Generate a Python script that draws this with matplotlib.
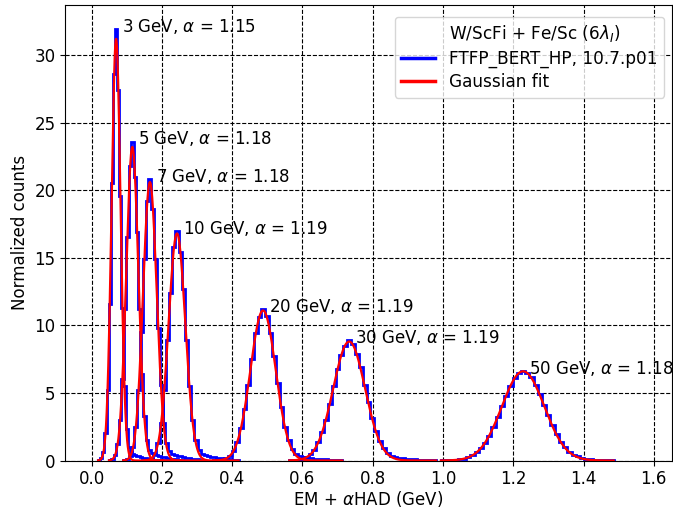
import numpy as np
import matplotlib.pyplot as plt
from matplotlib.lines import Line2D

# beam energies and the alpha weight used for each
energies = [3, 5, 7, 10, 20, 30, 50]
alphas = [1.15, 1.18, 1.18, 1.19, 1.19, 1.19, 1.18]

# gaussian fit parameters (mean, sigma, amplitude)
fit_mu = [0.0697, 0.116, 0.166, 0.243, 0.488, 0.733, 1.228]
fit_sigma = [0.0128, 0.0172, 0.0194, 0.0237, 0.0359, 0.0453, 0.0604]
fit_amp = [31.2, 23.2, 20.6, 16.8, 11.1, 8.8, 6.6]

# histogram binning: first edge and bin width for every energy
bin_start = [0.0187, 0.0495, 0.090, 0.1485, 0.34625, 0.5625, 0.994]
bin_width = [0.006, 0.007, 0.008, 0.009, 0.0105, 0.011, 0.012]

# normalized bin contents
h3 = [0.03, 0.15, 0.6, 2.0, 5.2, 11.6, 20.5, 28.6, 31.9, 27.4, 19.6, 11.3, 5.5,
      2.3, 1.0, 0.6, 0.5, 0.4, 0.35, 0.3, 0.25, 0.2, 0.15, 0.12, 0.1, 0.08,
      0.06, 0.05, 0.04, 0.03, 0.02]
h5 = [0.03, 0.12, 0.4, 1.2, 3.0, 6.0, 11.2, 16.5, 21.8, 23.6, 21.0, 16.9, 11.2,
      6.4, 3.3, 1.5, 0.8, 0.55, 0.45, 0.4, 0.33, 0.28, 0.23, 0.19, 0.15, 0.12,
      0.1, 0.08, 0.06, 0.04]
h7 = [0.02, 0.1, 0.33, 1.0, 2.5, 5.2, 9.5, 14.9, 19.2, 20.8, 18.6, 14.9, 9.8,
      5.6, 2.8, 1.3, 0.7, 0.5, 0.4, 0.35, 0.3, 0.25, 0.2, 0.16, 0.13, 0.1,
      0.08, 0.06, 0.04]
h10 = [0.02, 0.06, 0.18, 0.5, 1.3, 2.8, 5.2, 8.9, 12.4, 15.8, 17.0, 15.4, 12.7,
       8.9, 5.5, 3.0, 1.5, 0.8, 0.5, 0.4, 0.33, 0.28, 0.23, 0.19, 0.15, 0.12,
       0.1, 0.08, 0.06, 0.04]
h20 = [0.01, 0.03, 0.07, 0.17, 0.36, 0.73, 1.36, 2.38, 3.8, 5.6, 7.5, 9.4, 10.6,
       11.2, 10.7, 9.4, 7.7, 5.7, 3.95, 2.5, 1.5, 0.85, 0.5, 0.33, 0.25, 0.2,
       0.17, 0.14, 0.12, 0.1, 0.08, 0.06, 0.04, 0.03, 0.02]
h30 = [0.01, 0.03, 0.06, 0.13, 0.25, 0.46, 0.8, 1.35, 2.1, 3.0, 4.2, 5.5, 6.8,
       7.8, 8.5, 8.9, 8.6, 7.9, 6.9, 5.6, 4.35, 3.15, 2.2, 1.45, 0.9, 0.56,
       0.36, 0.25, 0.19, 0.15, 0.12, 0.1, 0.08, 0.06, 0.05, 0.04, 0.03, 0.02]
h50 = [0.005, 0.01, 0.02, 0.04, 0.08, 0.14, 0.24, 0.4, 0.6, 0.9, 1.32, 1.85, 2.5,
       3.25, 4.0, 4.8, 5.5, 6.1, 6.45, 6.6, 6.5, 6.15, 5.6, 4.9, 4.1, 3.35,
       2.6, 1.95, 1.4, 0.98, 0.66, 0.44, 0.3, 0.2, 0.14, 0.1, 0.07, 0.05,
       0.04, 0.03, 0.02]
hists = [h3, h5, h7, h10, h20, h30, h50]

fig = plt.figure(figsize=(6.73, 5.11), dpi=100)
ax = fig.add_axes([0.0969, 0.0988, 0.9012, 0.8914])

for i, e in enumerate(energies):
    h = np.array(hists[i])
    edges = bin_start[i] + bin_width[i] * np.arange(len(h) + 1)
    ax.stairs(h, edges, color='blue', lw=2, zorder=2)

    xs = np.linspace(edges[0], edges[-1], 400)
    ys = fit_amp[i] * np.exp(-0.5 * ((xs - fit_mu[i]) / fit_sigma[i]) ** 2)
    ax.plot(xs, ys, color='red', lw=1.6, zorder=3)

    ax.text(fit_mu[i] + 0.017, h.max() + 0.2,
            rf'{e} GeV, $\alpha$ = {alphas[i]:.2f}',
            fontsize=12, va='center', ha='left', clip_on=False)

ax.set_xlim(-0.075, 1.651)
ax.set_ylim(0, 33.7)
ax.set_xticks(np.arange(0, 1.61, 0.2))
ax.set_yticks(range(0, 31, 5))
ax.tick_params(labelsize=12)
ax.grid(True, color='black', linestyle='--', lw=0.8)
ax.set_axisbelow(True)

ax.set_xlabel(r'EM + $\alpha$HAD (GeV)', fontsize=12, labelpad=0.5)
ax.set_ylabel('Normalized counts', fontsize=12)

# first legend row carries the setup description with no visible handle
handles = [Line2D([], [], color='none'),
           Line2D([], [], color='blue', lw=2.5),
           Line2D([], [], color='red', lw=2.5)]
labels = [r'W/ScFi + Fe/Sc ($6\lambda_I$)', 'FTFP_BERT_HP, 10.7.p01', 'Gaussian fit']
ax.legend(handles, labels, loc='upper right', fontsize=12.2,
          bbox_to_anchor=(0.9873, 0.9743), borderaxespad=0,
          borderpad=0.4, labelspacing=0.3)

plt.savefig('out.png', dpi=100)
